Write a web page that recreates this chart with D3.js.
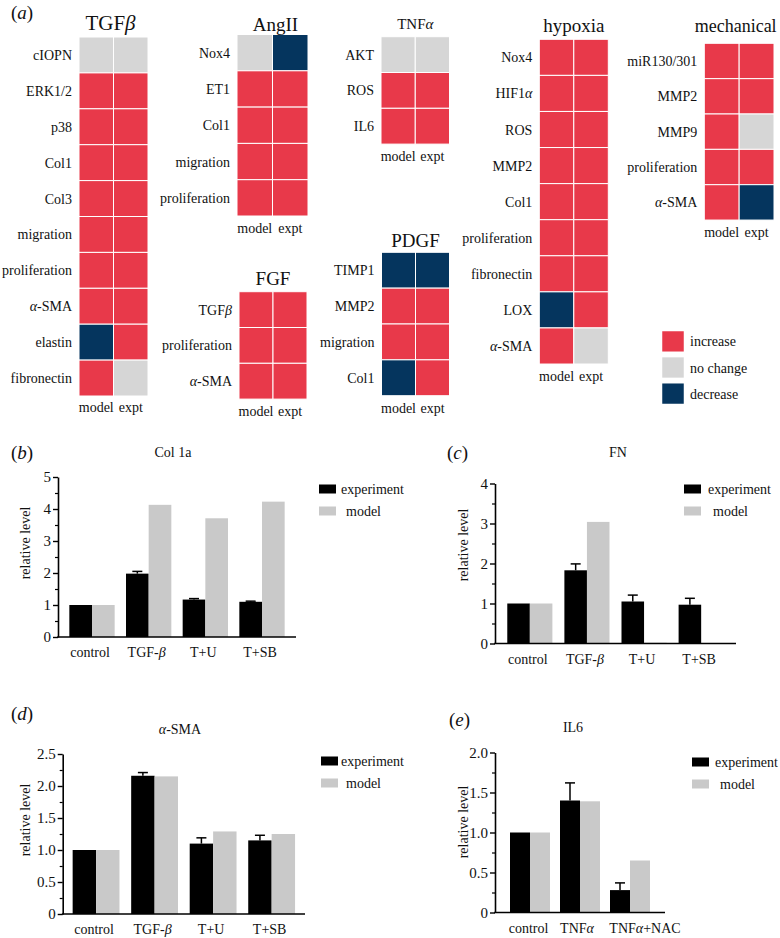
<!DOCTYPE html>
<html><head><meta charset="utf-8">
<script src="https://cdn.jsdelivr.net/npm/d3@7"></script>
<style>
html,body{margin:0;padding:0;background:#fff;}
svg{display:block;}
svg text{font-family:"Liberation Serif","Times New Roman","DejaVu Serif",serif !important;}
</style></head>
<body>
<svg id="chart" width="780" height="938"></svg>
<script>
// ---------- DATA ----------
// heatmap states: 1 = increase, 0 = no change, -1 = decrease
const heatCols = ["model", "expt"];
const tgfRows = ["cIOPN","ERK1/2","p38","Col1","Col3","migration","proliferation","α-SMA","elastin","fibronectin"];
const tgfModel = [0,1,1,1,1,1,1,1,-1,1];
const tgfExpt  = [0,1,1,1,1,1,1,1,1,0];
const angRows = ["Nox4","ET1","Col1","migration","proliferation"];
const angModel = [0,1,1,1,1];
const angExpt  = [-1,1,1,1,1];
const tnfRows = ["AKT","ROS","IL6"];
const tnfModel = [0,1,1];
const tnfExpt  = [0,1,1];
const fgfRows = ["TGFβ","proliferation","α-SMA"];
const fgfModel = [1,1,1];
const fgfExpt  = [1,1,1];
const pdgfRows = ["TIMP1","MMP2","migration","Col1"];
const pdgfModel = [-1,1,1,-1];
const pdgfExpt  = [-1,1,1,1];
const hypRows = ["Nox4","HIF1α","ROS","MMP2","Col1","proliferation","fibronectin","LOX","α-SMA"];
const hypModel = [1,1,1,1,1,1,1,-1,1];
const hypExpt  = [1,1,1,1,1,1,1,1,0];
const mechRows = ["miR130/301","MMP2","MMP9","proliferation","α-SMA"];
const mechModel = [1,1,1,1,1];
const mechExpt  = [1,1,0,1,-1];
const stateLabels = ["increase","no change","decrease"];
const stateValues = [1,0,-1];

// bar charts
const seriesNames = ["experiment","model"];
const colCats  = ["control","TGF-β","T+U","T+SB"];
const colExp   = [1, 1.98, 1.17, 1.10];
const colErr   = [0, 0.07, 0.03, 0.02];
const colModel = [1, 4.13, 3.71, 4.23];
const fnCats   = ["control","TGF-β","T+U","T+SB"];
const fnExp    = [1, 1.83, 1.05, 0.97];
const fnErr    = [0, 0.16, 0.16, 0.16];
const fnModel  = [1, 3.04, 0.02, 0];
const smaCats  = ["control","TGF-β","T+U","T+SB"];
const smaExp   = [1, 2.16, 1.10, 1.15];
const smaErr   = [0, 0.05, 0.09, 0.08];
const smaModel = [1, 2.15, 1.29, 1.25];
const il6Cats  = ["control","TNFα","TNFα+NAC"];
const il6Exp   = [1, 1.40, 0.28];
const il6Err   = [0, 0.22, 0.09];
const il6Model = [1, 1.39, 0.65];
const colTicks = [0,1,2,3,4,5];
const fnTicks  = [0,1,2,3,4];
const smaTicks = [0,0.5,1,1.5,2,2.5];
const il6Ticks = [0,0.5,1,1.5,2];

// ---------- DRAW ----------
const FONT = "'Liberation Serif', 'Times New Roman', 'DejaVu Serif', serif";
const svg = d3.select("#chart").attr("font-family", FONT);
const colorScale = d3.scaleOrdinal().domain(stateValues).range(["#e8394a","#d6d6d6","#05355e"]);
const barColor = d3.scaleOrdinal().domain(seriesNames).range(["#000000","#c9c9c9"]);

// text with italic greek letters
function richText(sel, str) {
  const parts = str.split(/([αβ])/).filter(s => s.length);
  parts.forEach(p => {
    const t = sel.append("tspan").text(p);
    if (p === "α" || p === "β") t.attr("font-style", "italic");
  });
  return sel;
}
function addText(g, str, x, y, size, anchor) {
  const t = g.append("text").attr("x", x).attr("y", y)
    .attr("font-family", FONT)
    .attr("font-size", size).attr("text-anchor", anchor || "start")
    .attr("dominant-baseline", "central").attr("fill", "#111");
  richText(t, str);
  return t;
}
function panelLabel(letter, x, y) {
  const t = svg.append("text").attr("x", x).attr("y", y).attr("font-size", 19)
    .attr("font-family", FONT)
    .attr("dominant-baseline", "central").attr("fill", "#111");
  t.append("tspan").text("(");
  t.append("tspan").text(letter).attr("font-style", "italic");
  t.append("tspan").text(")");
}

panelLabel("a", 11, 12);

function heatmap(cfg) {
  const {rows, model, expt, x0, x1, top, rowH, title, titleSize, titleY, footY} = cfg;
  const titleDx = cfg.titleDx || 0;
  const g = svg.append("g");
  const x = d3.scaleBand().domain(heatCols).range([x0, x1]);
  const y = d3.scaleBand().domain(rows).range([top, top + rows.length * rowH]);
  const cells = [];
  rows.forEach((r, i) => {
    cells.push({row: r, col: "model", v: model[i]});
    cells.push({row: r, col: "expt", v: expt[i]});
  });
  g.selectAll("rect").data(cells).join("rect")
    .attr("x", d => x(d.col)).attr("y", d => y(d.row))
    .attr("width", x.bandwidth()).attr("height", y.bandwidth())
    .attr("fill", d => colorScale(d.v))
    .attr("stroke", "#fff").attr("stroke-width", 1);
  rows.forEach(r => addText(g, r, x0 - 7, y(r) + y.bandwidth() / 2, 14, "end"));
  addText(g, title, (x0 + x1) / 2 + titleDx, titleY, titleSize, "middle");
  heatCols.forEach(c => addText(g, c, x(c) + x.bandwidth() / 2, footY, 14, "middle"));
}

heatmap({rows: tgfRows, model: tgfModel, expt: tgfExpt, x0: 79, x1: 148, top: 37, rowH: 35.9, title: "TGFβ", titleSize: 21, titleY: 23, footY: 407, titleDx: -3});
heatmap({rows: angRows, model: angModel, expt: angExpt, x0: 237, x1: 308, top: 34.5, rowH: 36.3, title: "AngII", titleSize: 19, titleY: 24, footY: 228, titleDx: 3});
heatmap({rows: tnfRows, model: tnfModel, expt: tnfExpt, x0: 381, x1: 449.5, top: 36.7, rowH: 35.8, title: "TNFα", titleSize: 15, titleY: 24, footY: 156});
heatmap({rows: fgfRows, model: fgfModel, expt: fgfExpt, x0: 239, x1: 307, top: 291.7, rowH: 35.8, title: "FGF", titleSize: 19, titleY: 278, footY: 411});
heatmap({rows: pdgfRows, model: pdgfModel, expt: pdgfExpt, x0: 381.5, x1: 449.5, top: 252.3, rowH: 35.85, title: "PDGF", titleSize: 19, titleY: 240, footY: 408});
heatmap({rows: hypRows, model: hypModel, expt: hypExpt, x0: 539.3, x1: 608.3, top: 39.3, rowH: 36.08, title: "hypoxia", titleSize: 19, titleY: 25, footY: 376});
heatmap({rows: mechRows, model: mechModel, expt: mechExpt, x0: 704.3, x1: 774, top: 43.3, rowH: 35.35, title: "mechanical", titleSize: 18, titleY: 26, footY: 232, titleDx: -3.5});

// state legend
const lg = svg.append("g");
const ly = d3.scaleBand().domain(stateValues).range([331, 404]).paddingInner(0.2);
stateValues.forEach((v, i) => {
  lg.append("rect").attr("x", 662).attr("y", ly(v)).attr("width", 22).attr("height", ly.bandwidth())
    .attr("fill", colorScale(v)).attr("stroke", "#fff").attr("stroke-width", 0.5);
  addText(lg, stateLabels[i], 690, ly(v) + ly.bandwidth() / 2, 14, "start");
});

// ---------- bar charts ----------
function barChart(cfg) {
  const {cats, exp, err, mod, ticks, minorStep, fmt, axisX, axisEnd, y0, yTop, pIn, pOut,
         label, lx, ly0, title, tx, ty, ylabX, ylabY, legX, legY, legTextX} = cfg;
  const labelDx = cfg.labelDx || cats.map(() => -2);
  const g = svg.append("g");
  const ymax = ticks[ticks.length - 1];
  const y = d3.scaleLinear().domain([0, ymax]).range([y0, yTop]);
  const x = d3.scaleBand().domain(cats).range([axisX, axisEnd]).paddingInner(pIn).paddingOuter(pOut);
  const xs = d3.scaleBand().domain(seriesNames).range([0, x.bandwidth()]);
  const data = [];
  cats.forEach((c, i) => {
    data.push({cat: c, s: "experiment", v: exp[i], e: err[i]});
    data.push({cat: c, s: "model", v: mod[i], e: 0});
  });
  g.selectAll("rect.bar").data(data.filter(d => d.v > 0)).join("rect").attr("class", "bar")
    .attr("x", d => x(d.cat) + xs(d.s)).attr("width", xs.bandwidth())
    .attr("y", d => y(d.v)).attr("height", d => y(0) - y(d.v))
    .attr("fill", d => barColor(d.s));
  // error bars (upper only)
  const eb = data.filter(d => d.e > 0);
  eb.forEach(d => {
    const cx = x(d.cat) + xs(d.s) + xs.bandwidth() / 2;
    g.append("line").attr("x1", cx).attr("x2", cx).attr("y1", y(d.v)).attr("y2", y(d.v + d.e))
      .attr("stroke", "#000").attr("stroke-width", 1.5);
    g.append("line").attr("x1", cx - 5).attr("x2", cx + 5).attr("y1", y(d.v + d.e)).attr("y2", y(d.v + d.e))
      .attr("stroke", "#000").attr("stroke-width", 1.5);
  });
  // minor ticks
  const minor = d3.range(0, ymax + 1e-9, minorStep).filter(v => !ticks.some(t => Math.abs(t - v) < 1e-9));
  const minorAx = g.append("g").attr("transform", `translate(${axisX},0)`)
    .call(d3.axisLeft(y).tickValues(minor).tickSize(3).tickFormat(""));
  minorAx.select(".domain").remove();
  minorAx.selectAll("line").attr("stroke", "#000").attr("stroke-width", 1.2);
  const yAx = g.append("g").attr("transform", `translate(${axisX},0)`)
    .call(d3.axisLeft(y).tickValues(ticks).tickSize(5).tickPadding(2).tickSizeOuter(0).tickFormat(fmt));
  yAx.attr("font-family", FONT);
  yAx.selectAll("text").attr("font-family", FONT).attr("font-size", 15).attr("fill", "#111");
  yAx.selectAll("line").attr("stroke", "#000").attr("stroke-width", 1.4);
  yAx.select(".domain").attr("stroke", "#000").attr("stroke-width", 1.6);
  const xAx = g.append("g").attr("transform", `translate(0,${y0})`)
    .call(d3.axisBottom(x).tickSize(0).tickPadding(9).tickSizeOuter(0).tickFormat(""));
  xAx.select(".domain").attr("stroke", "#000").attr("stroke-width", 1.6)
    .attr("d", `M${axisX - 0.8},0H${axisEnd}`);
  cats.forEach((c, i) => addText(g, c, x(c) + x.bandwidth() / 2 + labelDx[i], y0 + 15, 14, "middle"));
  // labels
  panelLabel(label, lx, ly0);
  addText(g, title, tx, ty, 14, "middle");
  g.append("text").attr("transform", `translate(${ylabX},${ylabY}) rotate(-90)`)
    .attr("font-family", FONT)
    .attr("text-anchor", "middle").attr("dominant-baseline", "central")
    .attr("font-size", 14).attr("fill", "#111").text("relative level");
  // legend
  seriesNames.forEach((s, i) => {
    const yy = legY + i * 22;
    g.append("rect").attr("x", legX).attr("y", yy - 4.5).attr("width", 17).attr("height", 9).attr("fill", barColor(s));
    addText(g, s, s === "model" ? legTextX + 5 : legTextX, yy, 14, "start");
  });
}

barChart({cats: colCats, exp: colExp, err: colErr, mod: colModel, ticks: colTicks, minorStep: 0.5,
  fmt: d3.format("d"), axisX: 58, axisEnd: 296, y0: 637, yTop: 477, pIn: 0.2, pOut: 0.2,
  label: "b", lx: 11, ly0: 452, title: "Col 1a", tx: 173, ty: 452, ylabX: 25, ylabY: 543,
  legX: 319, legY: 489, legTextX: 341});
barChart({cats: fnCats, exp: fnExp, err: fnErr, mod: fnModel, ticks: fnTicks, minorStep: 0.5,
  fmt: d3.format("d"), axisX: 495, axisEnd: 736, y0: 643.5, yTop: 483.5, pIn: 0.21, pOut: 0.215,
  label: "c", lx: 447, ly0: 452, title: "FN", tx: 618, ty: 452, ylabX: 463, ylabY: 545,
  legX: 684, legY: 489, legTextX: 708});
barChart({cats: smaCats, exp: smaExp, err: smaErr, mod: smaModel, ticks: smaTicks, minorStep: 0.25,
  fmt: d => d === 0 ? "0" : d3.format(".1f")(d), axisX: 62.7, axisEnd: 305, y0: 914, yTop: 754, pIn: 0.2, pOut: 0.17,
  label: "d", lx: 11, ly0: 713, title: "α-SMA", tx: 180, ty: 729, ylabX: 25, ylabY: 820,
  legX: 321, legY: 761, legTextX: 341});
barChart({cats: il6Cats, exp: il6Exp, err: il6Err, mod: il6Model, ticks: il6Ticks, minorStep: 0.25,
  fmt: d => d === 0 ? "0" : d3.format(".1f")(d), axisX: 495, axisEnd: 665, y0: 912.5, yTop: 752.5, pIn: 0.2, pOut: 0.3,
  label: "e", lx: 449, ly0: 719, title: "IL6", tx: 573, ty: 727, ylabX: 463, ylabY: 822,
  legX: 692, legY: 762, legTextX: 715, labelDx: [-1.5, -3, 15]});
</script>
</body></html>
